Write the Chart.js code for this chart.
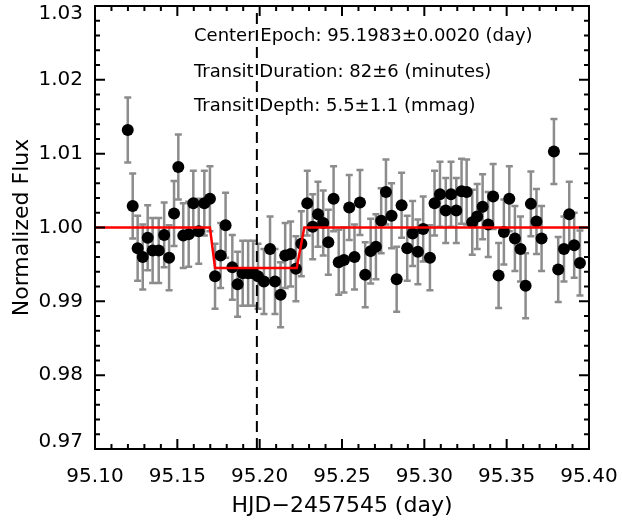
<!DOCTYPE html>
<html>
<head>
<meta charset="utf-8">
<script src="https://cdn.jsdelivr.net/npm/chart.js@4.4.0/dist/chart.umd.min.js"></script>
<style>
  html, body { margin: 0; padding: 0; background: #fff; }
  #wrap { width: 622px; height: 523px; }
</style>
</head>
<body>
<div id="wrap"><canvas id="myChart"></canvas></div>
<script>
// light curve (HJD - 2457545)
const TIME = [95.1199, 95.1229, 95.1259, 95.1290, 95.1320, 95.1350, 95.1387, 95.1420, 95.1450, 95.1480,
    95.1506, 95.1536, 95.1569, 95.1597, 95.1630, 95.1664, 95.1698, 95.1729, 95.1763, 95.1793,
    95.1834, 95.1866, 95.1897, 95.1930, 95.1960, 95.1990, 95.2026, 95.2063, 95.2093, 95.2127,
    95.2155, 95.2188, 95.2220, 95.2253, 95.2289, 95.2322, 95.2354, 95.2386, 95.2417, 95.2449,
    95.2480, 95.2512, 95.2544, 95.2576, 95.2609, 95.2641, 95.2674, 95.2706, 95.2738, 95.2767,
    95.2801, 95.2832, 95.2862, 95.2896, 95.2929, 95.2961, 95.2993, 95.3034, 95.3062, 95.3095,
    95.3130, 95.3162, 95.3194, 95.3226, 95.3257, 95.3291, 95.3321, 95.3354, 95.3388, 95.3418,
    95.3451, 95.3483, 95.3516, 95.3550, 95.3584, 95.3615, 95.3647, 95.3681, 95.3712, 95.3787,
    95.3813, 95.3848, 95.3880, 95.3910, 95.3945];
const FLUX = [1.0132, 1.0029, 0.9972, 0.9960, 0.9986, 0.9969, 0.9969, 0.9990, 0.9959, 1.0019,
    1.0082, 0.9989, 0.9991, 1.0033, 0.9995, 1.0033, 1.0039, 0.9934, 0.9962, 1.0003,
    0.9946, 0.9923, 0.9938, 0.9938, 0.9938, 0.9934, 0.9927, 0.9971, 0.9927, 0.9909,
    0.9962, 0.9964, 0.9944, 0.9978, 1.0033, 1.0001, 1.0018, 1.0006, 0.9980, 1.0039,
    0.9953, 0.9956, 1.0027, 0.9960, 1.0034, 0.9936, 0.9968, 0.9974, 1.0009, 1.0048,
    1.0016, 0.9930, 1.0030, 0.9972, 0.9992, 0.9967, 0.9998, 0.9959, 1.0033, 1.0045,
    1.0023, 1.0045, 1.0023, 1.0049, 1.0048, 1.0007, 1.0015, 1.0028, 1.0004, 1.0042,
    0.9935, 0.9994, 1.0039, 0.9985, 0.9971, 0.9921, 1.0032, 1.0008, 0.9985, 1.0103,
    0.9943, 0.9971, 1.0018, 0.9976, 0.9952];
const FLUX_ERR = 0.0044;

// transit model
const MODEL_X = [95.10, 95.1698, 95.1729, 95.2225, 95.2271, 95.40];
const MODEL_Y = [1.0000, 1.0000, 0.99452, 0.99452, 1.0000, 1.0000];

const CENTER_EPOCH = 95.1983;

const X_TICKS = [95.10, 95.15, 95.20, 95.25, 95.30, 95.35, 95.40];
const Y_TICKS = [0.97, 0.98, 0.99, 1.00, 1.01, 1.02, 1.03];

const INFO = ['Center Epoch: 95.1983\u00b10.0020 (day)',
    'Transit Duration: 82\u00b16 (minutes)',
    'Transit Depth: 5.5\u00b11.1 (mmag)'];

const FONT = 'DejaVu Sans';

const errorBars = {
    id: 'errorBars',
    beforeDatasetsDraw(chart) {
        const {ctx, scales: {x, y}} = chart;
        ctx.save();
        ctx.strokeStyle = '#8c8c8c';
        ctx.lineWidth = 2.5;
        TIME.forEach((t, i) => {
            const px = x.getPixelForValue(t);
            const top = y.getPixelForValue(FLUX[i] + FLUX_ERR);
            const bot = y.getPixelForValue(FLUX[i] - FLUX_ERR);
            ctx.beginPath();
            ctx.moveTo(px, top); ctx.lineTo(px, bot);
            ctx.moveTo(px - 3.5, top); ctx.lineTo(px + 3.5, top);
            ctx.moveTo(px - 3.5, bot); ctx.lineTo(px + 3.5, bot);
            ctx.stroke();
        });
        ctx.restore();
    }
};

// box with inward ticks, IDL style
const frame = {
    id: 'frame',
    afterDraw(chart) {
        const {ctx, chartArea: {left, right, top, bottom}, scales: {x, y}} = chart;
        ctx.save();
        ctx.strokeStyle = '#000';
        ctx.lineWidth = 2;
        ctx.strokeRect(left, top, right - left, bottom - top);
        ctx.beginPath();
        for (let k = 0; k <= 30; k++) {
            const px = x.getPixelForValue(95.10 + k * 0.01);
            const len = k % 5 === 0 ? 10 : 5;
            ctx.moveTo(px, bottom); ctx.lineTo(px, bottom - len);
            ctx.moveTo(px, top); ctx.lineTo(px, top + len);
        }
        for (let k = 0; k <= 30; k++) {
            const py = y.getPixelForValue(0.97 + k * 0.002);
            const len = k % 5 === 0 ? 10 : 5;
            ctx.moveTo(left, py); ctx.lineTo(left + len, py);
            ctx.moveTo(right, py); ctx.lineTo(right - len, py);
        }
        ctx.stroke();

        ctx.fillStyle = '#000';
        ctx.font = '18px ' + FONT;
        ctx.textBaseline = 'middle';
        ctx.textAlign = 'left';
        [36, 72, 106].forEach((ty, i) => ctx.fillText(INFO[i], 194, ty));
        ctx.restore();
    }
};

new Chart(document.getElementById('myChart'), {
    type: 'scatter',
    data: {
        datasets: [
            {
                label: 'model',
                data: MODEL_X.map((t, i) => ({x: t, y: MODEL_Y[i]})),
                showLine: true,
                borderColor: '#ff0000',
                borderWidth: 2.5,
                pointRadius: 0,
                order: 0
            },
            {
                label: 'flux',
                data: TIME.map((t, i) => ({x: t, y: FLUX[i]})),
                backgroundColor: '#000',
                borderColor: '#000',
                pointRadius: 6,
                borderWidth: 0,
                order: 1
            },
            {
                label: 'center',
                data: [{x: CENTER_EPOCH, y: 0.97}, {x: CENTER_EPOCH, y: 1.03}],
                showLine: true,
                borderColor: '#000',
                borderWidth: 2,
                borderDash: [11, 6],
                pointRadius: 0,
                order: 2
            }
        ]
    },
    options: {
        responsive: true,
        maintainAspectRatio: false,
        animation: false,
        events: [],
        layout: { padding: { top: 3, right: 33, left: 0, bottom: 0 } },
        plugins: { legend: { display: false }, tooltip: { enabled: false } },
        scales: {
            x: {
                type: 'linear',
                min: 95.10,
                max: 95.40,
                afterBuildTicks: s => { s.ticks = X_TICKS.map(v => ({value: v})); },
                afterFit: s => { s.height = 74; s.paddingLeft = 0; s.paddingRight = 0; },
                grid: { display: false, drawTicks: false },
                border: { display: false },
                ticks: {
                    padding: 16,
                    color: '#000',
                    font: { family: FONT, size: 20 },
                    maxRotation: 0,
                    callback: v => v.toFixed(2)
                },
                title: {
                    display: true,
                    text: 'HJD\u22122457545 (day)',
                    color: '#000',
                    font: { family: FONT, size: 22 },
                    padding: { top: 0, bottom: 4 }
                }
            },
            y: {
                type: 'linear',
                min: 0.97,
                max: 1.03,
                afterBuildTicks: s => { s.ticks = Y_TICKS.map(v => ({value: v})); },
                afterFit: s => { s.width = 95; s.paddingTop = 0; s.paddingBottom = 0; },
                grid: { display: false, drawTicks: false },
                border: { display: false },
                ticks: {
                    padding: 12,
                    color: '#000',
                    font: { family: FONT, size: 20, lineHeight: '15px' },
                    // end labels kept inside the frame height
                    callback: v => {
                        const s = v.toFixed(2);
                        if (s === '1.03') return ['', s];
                        if (s === '0.97') return [s, ''];
                        return s;
                    }
                },
                title: {
                    display: true,
                    text: 'Normalized Flux',
                    color: '#000',
                    font: { family: FONT, size: 22 },
                    padding: { top: 9, bottom: 0 }
                }
            }
        }
    },
    plugins: [errorBars, frame]
});
</script>
</body>
</html>
